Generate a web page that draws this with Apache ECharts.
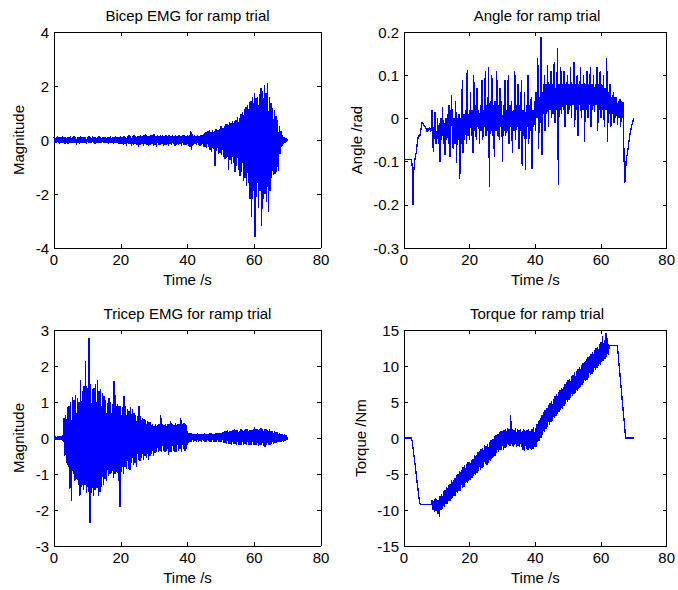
<!DOCTYPE html>
<html>
<head>
<meta charset="utf-8">
<title>Ramp trial</title>
<script src="https://cdn.jsdelivr.net/npm/echarts@6.0.0/dist/echarts.min.js"></script>
<style>
html, body { margin: 0; padding: 0; background: #fff; }
#main { width: 678px; height: 590px; }
/* aliased strokes, like the original plot window */
#main svg path { shape-rendering: crispEdges; }
</style>
</head>
<body>
<div id="main"></div>
<script>
// values, one every dt seconds from t = 0 to 70 (20 per row = 5 s)
var dt = 0.25;
var timeRange = [0, 80, 20];

var bicepEmg = [
	0.1,-0.12,0.08,-0.1,0.14,-0.09,0.11,-0.13,0.09,-0.1,0.16,-0.12,0.1,-0.14,0.12,-0.09,0.1,-0.15,0.11,-0.12,
	0.13,-0.1,0.09,-0.12,0.15,-0.11,0.1,-0.17,0.12,-0.1,0.11,-0.13,0.16,-0.1,0.09,-0.12,0.12,-0.11,0.1,-0.16,
	0.11,-0.1,0.13,-0.09,0.1,-0.12,0.14,-0.1,0.09,-0.13,0.12,-0.1,0.1,-0.11,0.13,-0.09,0.1,-0.12,0.09,-0.1,
	0.1,-0.11,0.12,-0.1,0.09,-0.14,0.11,-0.1,0.13,-0.12,0.1,-0.15,0.12,-0.11,0.14,-0.1,0.11,-0.13,0.12,-0.14,
	0.13,-0.15,0.11,-0.18,0.15,-0.13,0.12,-0.21,0.14,-0.16,0.17,-0.14,0.13,-0.22,0.15,-0.17,0.18,-0.15,0.14,-0.2,
	0.16,-0.24,0.14,-0.17,0.19,-0.15,0.15,-0.21,0.18,-0.16,0.21,-0.18,0.16,-0.23,0.15,-0.17,0.2,-0.16,0.17,-0.21,
	0.22,-0.18,0.16,-0.25,0.18,-0.17,0.15,-0.2,0.19,-0.16,0.17,-0.22,0.16,-0.18,0.2,-0.17,0.15,-0.21,0.18,-0.16,
	0.16,-0.19,0.2,-0.16,0.15,-0.21,0.18,-0.17,0.16,-0.2,0.19,-0.16,0.15,-0.23,0.17,-0.18,0.2,-0.17,0.16,-0.2,
	0.19,-0.22,0.17,-0.25,0.32,-0.38,0.22,-0.2,0.17,-0.16,0.15,-0.2,0.18,-0.17,0.16,-0.22,0.19,-0.18,0.2,-0.24,
	0.24,-0.26,0.28,-0.3,0.33,-0.27,0.36,-0.38,0.3,-0.45,0.37,-0.35,0.34,-0.98,0.4,-0.42,0.38,-0.5,0.42,-0.48,
	0.5,-0.55,0.45,-0.62,0.52,-0.7,0.6,-0.65,0.58,-1.1,0.66,-0.75,0.62,-0.9,0.7,-0.85,0.72,-1.2,0.75,-0.95,
	0.86,-1.1,0.82,-1.35,0.95,-1.2,1.05,-1.5,1.15,-1.4,1.23,-1.72,1.3,-1.6,1.4,-2.2,1.45,-2.84,1.6,-1.9,
	1.74,-3.58,1.55,-2.1,1.6,-2.5,1.7,-1.9,1.91,-3.2,1.8,-2.2,2.05,-2.0,1.75,-2.3,2.12,-2.65,1.6,-1.9,
	1.37,-1.4,1.2,-1.3,1.1,-1.25,0.9,-1.2,0.74,-1.15,0.5,-0.5,0.35,-0.25,0.2,-0.15,0.12,-0.1,0.08,-0.06,
	0.03
];
var angle = [
	-0.095,-0.095,-0.095,-0.095,-0.095,-0.095,-0.095,-0.095,-0.095,-0.095,-0.11,-0.2,-0.12,-0.1,-0.085,-0.08,-0.06,-0.045,-0.04,-0.042,
	-0.035,-0.02,-0.008,-0.012,-0.015,-0.02,-0.018,-0.025,-0.03,-0.022,-0.028,-0.02,-0.025,-0.03,0.02,-0.06,-0.077,0.0,0.015,-0.06,
	-0.05,0.0,-0.06,-0.01,-0.1,0.0,-0.05,0.027,-0.06,-0.01,-0.085,0.0,-0.05,0.01,-0.06,0.03,-0.09,-0.01,0.054,-0.05,
	-0.07,0.0,-0.06,0.04,-0.104,0.0,-0.05,0.01,-0.14,0.0,-0.06,0.09,-0.08,0.01,-0.05,0.02,-0.06,0.112,-0.04,0.01,
	-0.05,0.06,-0.04,0.02,-0.08,0.1,-0.03,0.03,-0.05,0.07,-0.02,0.02,-0.06,0.03,-0.03,0.09,-0.05,0.02,-0.02,0.11,
	-0.04,0.03,-0.03,0.12,-0.158,0.04,-0.03,0.1,-0.04,0.03,-0.09,0.04,-0.03,0.11,-0.04,0.03,-0.05,0.07,-0.02,0.04,
	-0.1,0.03,-0.03,0.09,-0.04,0.02,-0.03,0.1,-0.06,0.03,-0.02,0.04,-0.08,0.02,-0.03,0.11,-0.05,0.03,-0.02,0.08,
	-0.07,0.03,-0.03,0.09,-0.11,0.02,-0.04,0.06,-0.12,0.03,-0.02,0.1,-0.06,0.03,-0.03,0.05,-0.116,0.02,-0.02,0.04,
	-0.03,0.06,0.0,0.14,-0.07,0.05,-0.01,0.189,-0.085,0.06,0.01,0.1,-0.03,0.08,0.01,0.124,-0.02,0.08,0.02,0.11,
	0.0,0.08,0.01,0.13,-0.01,0.07,0.02,0.162,-0.155,0.08,0.02,0.12,0.01,0.08,0.02,0.11,-0.02,0.08,0.03,0.1,
	0.01,0.08,0.02,0.12,0.0,0.08,0.03,0.13,-0.02,0.08,0.02,0.1,-0.04,0.08,0.03,0.12,0.0,0.08,0.02,0.1,
	-0.054,0.08,0.02,0.11,0.0,0.08,0.03,0.12,-0.02,0.08,0.02,0.1,0.016,0.08,0.03,0.12,-0.03,0.08,0.02,0.11,
	0.0,0.08,0.02,0.1,-0.02,0.07,0.02,0.139,-0.054,0.06,0.01,0.08,-0.02,0.05,0.01,0.062,-0.01,0.05,0.0,0.05,
	-0.015,0.04,0.0,0.046,-0.02,0.04,0.0,0.039,-0.085,-0.15,-0.12,-0.09,-0.085,-0.07,-0.054,-0.04,-0.03,-0.02,-0.012,-0.006,
	0
];
var tricepEmg = [
	0.04,-0.05,0.05,-0.04,0.06,-0.05,0.04,-0.06,0.05,-0.06,0.07,-0.1,0.55,-0.5,0.65,-0.7,0.85,-0.8,0.9,-1.43,
	1.0,-1.74,1.13,-1.0,1.05,-1.2,1.2,-1.15,1.1,-1.3,1.0,-1.62,1.62,-1.35,1.3,-1.45,1.44,-1.3,2.13,-1.52,
	1.4,-1.5,2.78,-2.35,1.5,-1.52,1.35,-1.6,1.4,-1.45,1.5,-1.4,1.62,-1.6,1.3,-1.5,1.35,-1.35,1.25,-1.3,
	1.16,-1.15,1.05,-1.2,0.98,-1.06,1.1,-1.0,1.0,-0.97,0.95,-1.1,1.58,-1.0,1.2,-0.95,0.95,-1.2,0.9,-1.93,
	0.9,-0.95,0.85,-1.0,1.16,-0.8,0.9,-0.85,0.8,-0.85,0.75,-0.9,0.85,-0.7,0.8,-0.75,0.7,-0.7,0.65,-0.8,
	0.6,-0.6,0.88,-0.65,0.6,-0.55,0.55,-0.6,0.53,-0.5,0.5,-0.55,0.48,-0.6,0.45,-0.5,0.45,-0.45,0.4,-0.5,
	0.33,-0.42,0.4,-0.38,0.35,-0.4,0.4,-0.35,0.65,-0.4,0.38,-0.35,0.36,-0.4,0.4,-0.35,0.38,-0.46,0.4,-0.38,
	0.47,-0.4,0.38,-0.35,0.36,-0.38,0.42,-0.38,0.4,-0.35,0.38,-0.3,0.55,-0.4,0.4,-0.3,0.42,-0.35,0.4,-0.3,
	0.19,-0.14,0.15,-0.12,0.14,-0.1,0.12,-0.11,0.12,-0.09,0.11,-0.1,0.13,-0.1,0.12,-0.09,0.11,-0.1,0.12,-0.09,
	0.13,-0.1,0.12,-0.1,0.12,-0.09,0.13,-0.1,0.14,-0.1,0.12,-0.11,0.12,-0.1,0.13,-0.1,0.13,-0.11,0.14,-0.12,
	0.15,-0.12,0.17,-0.14,0.2,-0.15,0.18,-0.16,0.22,-0.16,0.2,-0.17,0.2,-0.18,0.22,-0.16,0.24,-0.17,0.21,-0.18,
	0.22,-0.2,0.2,-0.18,0.24,-0.18,0.22,-0.2,0.22,-0.17,0.24,-0.19,0.26,-0.2,0.23,-0.18,0.23,-0.18,0.22,-0.2,
	0.3,-0.2,0.24,-0.2,0.24,-0.22,0.26,-0.2,0.28,-0.19,0.24,-0.22,0.24,-0.24,0.25,-0.2,0.22,-0.18,0.24,-0.2,
	0.2,-0.16,0.2,-0.17,0.18,-0.15,0.17,-0.14,0.16,-0.12,0.14,-0.12,0.12,-0.1,0.11,-0.1,0.1,-0.08,0.08,-0.06,
	0.02
];
var torque = [
	0,0,0,0,0,0,0,0,0,0,-0.4,-1.4,-2.3,-3.2,-4.2,-5.2,-6.2,-7.1,-8.1,-9.0,
	-9.25,-9.25,-9.25,-9.25,-9.25,-9.25,-9.25,-9.25,-9.25,-9.25,-9.25,-9.25,-9.25,-9.25,-8.6,-10.0,-8.8,-10.3,-8.4,-10.1,
	-8.5,-10.5,-8.6,-11.0,-8.0,-10.0,-7.8,-9.8,-7.4,-9.6,-7.2,-9.2,-6.8,-9.1,-6.5,-8.8,-6.4,-8.7,-5.9,-8.3,
	-5.8,-8.1,-5.5,-8.0,-5.2,-7.6,-5.0,-7.4,-4.6,-7.3,-4.5,-6.9,-4.1,-6.8,-3.8,-6.3,-3.6,-6.2,-3.4,-5.9,
	-3.4,-5.8,-3.0,-5.6,-2.9,-5.3,-2.4,-5.1,-2.3,-4.8,-2.0,-4.6,-1.8,-4.4,-1.5,-4.1,-1.4,-4.0,-1.0,-3.6,
	-1.1,-3.7,-0.8,-3.4,-0.5,-3.2,-0.3,-2.9,-0.1,-2.6,0.3,-2.5,0.4,-2.1,0.6,-2.0,0.8,-1.7,0.9,-1.6,
	1.0,-1.6,1.1,-1.4,1.3,-1.2,1.4,-1.0,1.2,-1.1,3.2,-0.9,1.3,-1.2,1.1,-1.0,1.4,-1.3,1.2,-1.1,
	1.1,-1.3,1.2,-1.2,0.9,-1.6,1.2,-1.8,1.0,-1.5,1.1,-1.6,1.3,-1.4,1.0,-1.7,1.2,-1.5,1.5,-1.3,
	1.4,-1.2,2.0,-0.6,2.4,-0.4,2.8,0.0,3.2,0.4,3.6,0.8,3.9,1.2,4.2,1.6,4.6,1.8,4.9,2.2,
	5.1,2.4,5.4,2.8,5.8,3.0,6.1,3.3,6.4,3.6,6.6,3.9,6.9,4.1,7.1,4.4,7.5,4.7,7.8,5.0,
	8.0,5.3,8.2,5.5,8.6,5.8,8.8,6.1,9.1,6.3,9.3,6.6,9.6,6.8,9.9,7.1,10.1,7.4,10.4,7.6,
	10.6,7.9,10.9,8.1,11.2,8.4,11.4,8.7,11.7,8.9,11.9,9.2,12.2,9.5,12.5,9.7,12.7,10.0,13.0,10.2,
	13.3,10.5,14.2,10.7,13.6,11.0,14.6,11.3,13.9,11.6,12.8,12.8,12.8,12.8,12.8,12.8,12.8,12.8,12.8,12.8,
	12.8,11.5,10.2,9.0,7.7,6.4,5.1,3.8,2.6,1.3,0,0,0,0,0,0,0,0,0,0,
	0
];

// y ranges: min, max, interval
var bicepRange = [-4, 4, 2];
var angleRange = [-0.3, 0.2, 0.1];
var tricepRange = [-3, 3, 1];
var torqueRange = [-15, 15, 5];

var titles = ['Bicep EMG for ramp trial', 'Angle for ramp trial', 'Tricep EMG for ramp trial', 'Torque for ramp trial'];
var yNames = ['Magnitude', 'Angle /rad', 'Magnitude', 'Torque /Nm'];
var xName = 'Time /s';

var FONT = 'Liberation Sans, Arial, Helvetica, sans-serif';
var FS = 15;

function toPairs(arr) {
	var out = [];
	for (var i = 0; i < arr.length; i++) {
		out.push([+(i * dt).toFixed(2), arr[i]]);
	}
	return out;
}

var boxes = [
	{left: 54, top: 32, width: 267, height: 216},
	{left: 404, top: 32, width: 266, height: 216},
	{left: 54, top: 330, width: 267, height: 216},
	{left: 404, top: 330, width: 266, height: 216}
];
var ranges = [bicepRange, angleRange, tricepRange, torqueRange];
var yGaps = [28, 40, 28, 36];
var signals = [bicepEmg, angle, tricepEmg, torque];

var tickStyle = {show: true, inside: true, length: 4, lineStyle: {color: '#000', width: 1}};
var lineStyle = {show: true, onZero: false, lineStyle: {color: '#000', width: 1}};

var xAxes = [], yAxes = [], series = [], titleList = [];
for (var g = 0; g < 4; g++) {
	// bottom / left carry labels, top / right only close the box
	xAxes.push({
		type: 'value', gridIndex: g, position: 'bottom',
		min: timeRange[0], max: timeRange[1], interval: timeRange[2],
		axisLine: lineStyle, axisTick: tickStyle, splitLine: {show: false},
		axisLabel: {color: '#000', fontSize: FS, fontFamily: FONT, margin: 4},
		name: xName, nameLocation: 'middle', nameGap: 24,
		nameTextStyle: {color: '#000', fontSize: FS, fontFamily: FONT}
	});
	xAxes.push({
		type: 'value', gridIndex: g, position: 'top',
		min: timeRange[0], max: timeRange[1], interval: timeRange[2],
		axisLine: lineStyle, axisTick: tickStyle, splitLine: {show: false},
		axisLabel: {show: false}
	});
	yAxes.push({
		type: 'value', gridIndex: g, position: 'left',
		min: ranges[g][0], max: ranges[g][1], interval: ranges[g][2],
		axisLine: lineStyle, axisTick: tickStyle, splitLine: {show: false},
		axisLabel: {color: '#000', fontSize: FS, fontFamily: FONT, margin: 5},
		name: yNames[g], nameLocation: 'middle', nameGap: yGaps[g],
		nameTextStyle: {color: '#000', fontSize: FS, fontFamily: FONT}
	});
	yAxes.push({
		type: 'value', gridIndex: g, position: 'right',
		min: ranges[g][0], max: ranges[g][1], interval: ranges[g][2],
		axisLine: lineStyle, axisTick: tickStyle, splitLine: {show: false},
		axisLabel: {show: false}
	});
	series.push({
		type: 'line', name: titles[g],
		xAxisIndex: g * 2, yAxisIndex: g * 2,
		showSymbol: false, symbol: 'none', sampling: null,
		lineStyle: {color: '#0000ff', width: 1.3},
		data: toPairs(signals[g])
	});
	titleList.push({
		text: titles[g],
		left: boxes[g].left + boxes[g].width / 2,
		top: boxes[g].top - 24,
		textAlign: 'center', padding: 0,
		textStyle: {color: '#000', fontSize: FS, fontWeight: 'normal', fontFamily: FONT}
	});
}

var myChart = echarts.init(document.getElementById('main'), null, {renderer: 'svg'});
var option = {
	backgroundColor: '#fff',
	animation: false,
	title: titleList,
	grid: boxes,
	xAxis: xAxes,
	yAxis: yAxes,
	series: series
};
myChart.setOption(option);
</script>
</body>
</html>
